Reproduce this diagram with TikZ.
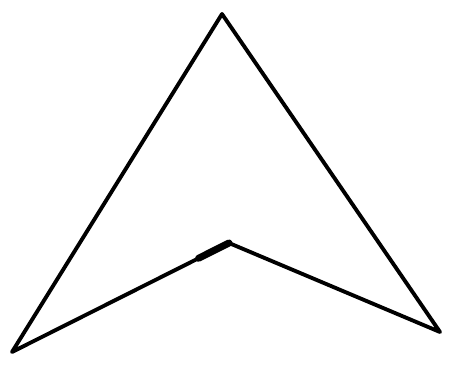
\documentclass[tikz,border=0pt]{standalone}
\usetikzlibrary{calc}
\begin{document}
\begin{tikzpicture}[x=0.02cm, y=-0.02cm, line cap=round, line join=round]
	\useasboundingbox (0,0) rectangle (451,379);
	\draw[line width=2.2pt] (222,14) coordinate (1) -- (440,332) coordinate (2) -- (229,243) coordinate (3) -- (12,352) coordinate (4) -- cycle;
	\draw[line width=4pt] (3) -- ($(3)!0.14!(4)$);
\end{tikzpicture}
\end{document}
